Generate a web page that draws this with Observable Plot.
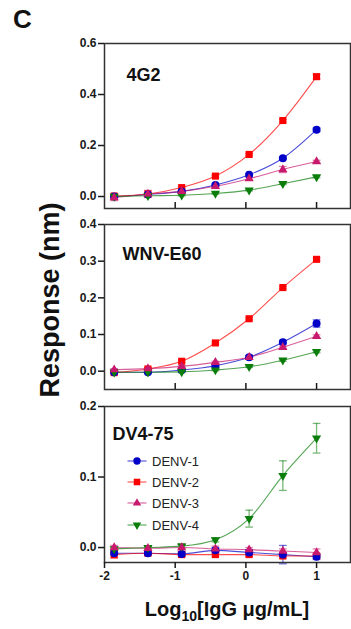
<!DOCTYPE html>
<html><head><meta charset="utf-8">
<script src="https://cdn.jsdelivr.net/npm/d3@7"></script>
<script src="https://cdn.jsdelivr.net/npm/@observablehq/plot@0.6"></script>
<style>
body{margin:0;background:#fff;}
#root{position:relative;width:351px;height:629px;overflow:hidden;font-family:"Liberation Sans",Arial,sans-serif;color:#111;}
.abs{position:absolute;}
#root svg{overflow:visible;}
</style></head><body><div id="root"></div>
<script>
// ---- data ----
const xLog = [-1.863, -1.386, -0.908, -0.431, 0.046, 0.523, 1.0];
const xTicks = [-2, -1, 0, 1];
const seriesNames = ["DENV-1", "DENV-2", "DENV-3", "DENV-4"];
const seriesColors = ["#0000c8", "#ff0000", "#c8196e", "#0a7d0a"];
const panelLabels = ["4G2", "WNV-E60", "DV4-75"];
const yTicks4G2 = [0, 0.2, 0.4, 0.6];
const yTicksE60 = [0, 0.1, 0.2, 0.3, 0.4];
const yTicksDV4 = [0, 0.1, 0.2];

// 4G2
const g2_D1 = [0.000, 0.008, 0.020, 0.045, 0.085, 0.150, 0.262];
const g2_D2 = [0.002, 0.010, 0.035, 0.080, 0.165, 0.298, 0.470];
const g2_D3 = [-0.004, 0.010, 0.020, 0.040, 0.070, 0.106, 0.137];
const g2_D4 = [0.000, 0.003, 0.005, 0.012, 0.025, 0.050, 0.077];
const g2_E1 = [0.004, 0.004, 0.004, 0.004, 0.004, 0.005, 0.007];
const g2_E2 = [0.005, 0.004, 0.004, 0.004, 0.004, 0.005, 0.009];
const g2_E3 = [0.012, 0.014, 0.004, 0.004, 0.005, 0.012, 0.005];
const g2_E4 = [0.003, 0.003, 0.003, 0.003, 0.003, 0.003, 0.004];
// WNV-E60
const e60_D1 = [-0.003, -0.003, 0.003, 0.015, 0.038, 0.079, 0.130];
const e60_D2 = [-0.004, 0.006, 0.027, 0.077, 0.143, 0.228, 0.305];
const e60_D3 = [0.004, 0.007, 0.013, 0.024, 0.038, 0.065, 0.095];
const e60_D4 = [-0.003, -0.003, -0.002, 0.003, 0.012, 0.030, 0.053];
const e60_E1 = [0.003, 0.003, 0.003, 0.004, 0.005, 0.005, 0.010];
const e60_E2 = [0.003, 0.003, 0.003, 0.003, 0.003, 0.003, 0.004];
const e60_E3 = [0.003, 0.003, 0.003, 0.003, 0.003, 0.003, 0.004];
const e60_E4 = [0.002, 0.002, 0.002, 0.002, 0.002, 0.003, 0.003];
// DV4-75
const dv_D1 = [-0.008, -0.008, -0.009, -0.004, -0.007, -0.010, -0.013];
const dv_D2 = [-0.010, -0.008, -0.010, -0.010, -0.010, -0.012, -0.012];
const dv_D3 = [0.000, -0.001, 0.000, -0.002, -0.003, -0.005, -0.007];
const dv_D4 = [-0.002, 0.000, 0.002, 0.011, 0.041, 0.102, 0.155];
const dv_E1 = [0.003, 0.003, 0.003, 0.004, 0.004, 0.013, 0.004];
const dv_E2 = [0.005, 0.003, 0.003, 0.003, 0.003, 0.003, 0.003];
const dv_E3 = [0.003, 0.003, 0.005, 0.004, 0.003, 0.003, 0.005];
const dv_E4 = [0.002, 0.002, 0.003, 0.003, 0.012, 0.021, 0.021];

// ---- build ----
const sqrt3 = Math.sqrt(3);
const triangleDown = {
  draw(context, size) {
    const y = -Math.sqrt(size / (sqrt3 * 3));
    context.moveTo(0, -y * 2);
    context.lineTo(-sqrt3 * y, y);
    context.lineTo(sqrt3 * y, y);
    context.closePath();
  }
};
const seriesSymbols = [d3.symbolCircle, d3.symbolSquare, d3.symbolTriangle, triangleDown];
const seriesR = [4, 4, 3.4, 3.4];

function rowsFor(values, errors) {
  const rows = [];
  values.forEach((vals, si) => {
    vals.forEach((v, i) => rows.push({series: seriesNames[si], x: xLog[i], y: v, e: errors[si][i]}));
  });
  return rows;
}
const FONT = '"Liberation Sans",Arial,sans-serif';
const capHalf = 0.055;

function makePanel({rows, yDomain, yTicks, label, labelDx, labelDy, height, marginBottom, xLabels}) {
  const drawOrder = rows.slice().sort((a, b) => seriesNames.indexOf(b.series) - seriesNames.indexOf(a.series));
  return Plot.plot({
    width: 351, height, marginLeft: 104, marginRight: 1, marginTop: 8, marginBottom,
    style: {fontFamily: FONT, color: "#1a1a1a", background: "transparent", overflow: "visible"},
    x: {domain: [-2, 1.48], axis: null},
    y: {domain: yDomain, axis: null},
    r: {type: "identity"},
    color: {domain: seriesNames, range: seriesColors},
    symbol: {domain: seriesNames, range: seriesSymbols},
    marks: [
      Plot.line(rows, {x: "x", y: "y", z: "series", stroke: "series", curve: "monotone-x", strokeWidth: 1.1, strokeOpacity: 0.7}),
      Plot.ruleX(rows, {x: "x", y1: d => d.y - d.e, y2: d => d.y + d.e, stroke: "series", strokeOpacity: 0.55, strokeWidth: 1.3}),
      Plot.link(rows, {x1: d => d.x - capHalf, x2: d => d.x + capHalf, y1: d => d.y + d.e, y2: d => d.y + d.e, stroke: "series", strokeOpacity: 0.55, strokeWidth: 1.3}),
      Plot.link(rows, {x1: d => d.x - capHalf, x2: d => d.x + capHalf, y1: d => d.y - d.e, y2: d => d.y - d.e, stroke: "series", strokeOpacity: 0.55, strokeWidth: 1.3}),
      Plot.dot(drawOrder, {x: "x", y: "y", symbol: "series", fill: "series", r: d => seriesR[seriesNames.indexOf(d.series)], stroke: "none"}),
      Plot.frame({stroke: "#333", strokeWidth: 1.5}),
      Plot.axisY({ticks: yTicks, label: null, tickSize: 6, tickPadding: 2, tickFormat: d3.format(".1f"), fontSize: 12, fontWeight: "bold", strokeWidth: 1.5}),
      xLabels
        ? Plot.axisX({ticks: xTicks, label: null, tickSize: 6, tickPadding: 3, tickFormat: d => String(d), fontSize: 12, fontWeight: "bold", strokeWidth: 1.5})
        : Plot.axisX({ticks: xTicks.slice(1), label: null, tickSize: 6, dy: -6, tickFormat: () => "", strokeWidth: 1.5}),
      Plot.text([label], {frameAnchor: "top-left", dx: labelDx, dy: labelDy, fontSize: 18, fontWeight: "bold", textAnchor: "start", fill: "#111"})
    ]
  });
}

const root = document.getElementById("root");
function place(el, left, top) { el.classList.add("abs"); el.style.left = left + "px"; el.style.top = top + "px"; root.appendChild(el); return el; }

const p1 = makePanel({
  rows: rowsFor([g2_D1, g2_D2, g2_D3, g2_D4], [g2_E1, g2_E2, g2_E3, g2_E4]),
  yDomain: [-0.047, 0.6], yTicks: yTicks4G2, label: panelLabels[0], labelDx: 22, labelDy: 25,
  height: 175, marginBottom: 2, xLabels: false
});
place(p1, 0, 35);

const p2 = makePanel({
  rows: rowsFor([e60_D1, e60_D2, e60_D3, e60_D4], [e60_E1, e60_E2, e60_E3, e60_E4]),
  yDomain: [-0.05, 0.4], yTicks: yTicksE60, label: panelLabels[1], labelDx: 18, labelDy: 23,
  height: 175, marginBottom: 2, xLabels: false
});
place(p2, 0, 216);

const p3 = makePanel({
  rows: rowsFor([dv_D1, dv_D2, dv_D3, dv_D4], [dv_E1, dv_E2, dv_E3, dv_E4]),
  yDomain: [-0.0212, 0.2], yTicks: yTicksDV4, label: panelLabels[2], labelDx: 8, labelDy: 21,
  height: 192, marginBottom: 28, xLabels: true
});
place(p3, 0, 398);

// panel letter
const letter = document.createElement("div");
letter.textContent = "C";
letter.style.cssText = "font-size:26px;font-weight:bold;line-height:26px;";
place(letter, 13, 6);

// y label
const ylab = document.createElement("div");
ylab.textContent = "Response (nm)";
ylab.style.cssText = "font-size:27px;font-weight:bold;white-space:nowrap;line-height:30px;transform:translate(-50%,-50%) rotate(-90deg);";
place(ylab, 50, 300);

// x label
const xlab = document.createElement("div");
xlab.innerHTML = "Log<sub style=\"font-size:14px;vertical-align:-5px;line-height:0\">10</sub>[IgG \u03BCg/mL]";
xlab.style.cssText = "font-size:20px;font-weight:bold;white-space:nowrap;line-height:24px;width:246px;text-align:center;";
place(xlab, 104, 597);

// legend
const legendY = [461, 482, 503, 525];
seriesNames.forEach((name, i) => {
  const item = document.createElement("div");
  item.style.cssText = "height:16px;display:flex;align-items:center;white-space:nowrap;";
  const sym = d3.symbol(seriesSymbols[i], Math.PI * seriesR[i] * seriesR[i] * 0.85)();
  item.innerHTML = `<svg width="24" height="16" viewBox="-12 -8 24 16" style="overflow:visible">
    <line x1="-9.5" x2="9.5" y1="0" y2="0" stroke="${seriesColors[i]}" stroke-opacity="0.7" stroke-width="1.1"></line>
    <path d="${sym}" fill="${seriesColors[i]}"></path></svg>
    <span style="font-size:13px;margin-left:3px;color:#222">${name}</span>`;
  place(item, 125, legendY[i] - 8);
});
</script></body></html>
